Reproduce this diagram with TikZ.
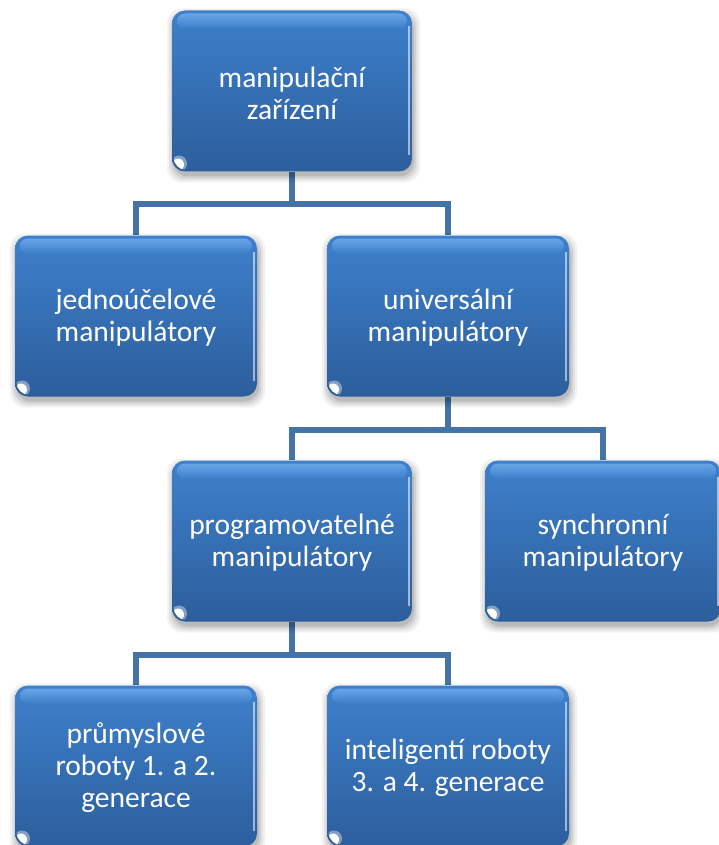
\documentclass[tikz,border=0pt]{standalone}
\usepackage{fontspec}
\setmainfont{Carlito}
\pgfdeclarelayer{bg}
\pgfsetlayers{bg,main}
\definecolor{boxtop}{RGB}{62,128,204}
\definecolor{boxbot}{RGB}{44,94,156}
\definecolor{gloss}{RGB}{112,172,236}
\definecolor{conn}{RGB}{69,114,167}
\tikzset{
  box/.style={rounded corners=13pt, top color=boxtop, bottom color=boxbot,
    draw=none, text=white, align=center, inner sep=0pt},
  boxtext/.style={text=white, align=center, inner sep=0pt,
    font=\fontsize{29.5}{32}\selectfont},
  connector/.style={draw=conn, line width=6pt}
}
\newcommand{\rbox}[6]{%
  \pgfmathsetmacro{\bl}{#2-#4/2}\pgfmathsetmacro{\br}{#2+#4/2}%
  \pgfmathsetmacro{\bt}{#3-#5/2}\pgfmathsetmacro{\bb}{#3+#5/2}%
  \foreach \s/\o in {7/0.05,5/0.06,3/0.08,1/0.1}{%
    \fill[black,opacity=\o,rounded corners=15pt] (\bl-\s+2,\bt+5-\s) rectangle (\br+\s+1,\bb+4+\s);}
  \node[box, minimum width=#4pt, minimum height=#5pt] (#1) at (#2,#3) {};
  \shade[top color=gloss, bottom color=boxtop, rounded corners=8pt, opacity=0.85]
    (\bl+5,\bt+3) rectangle (\br-5,\bt+18);
  \draw[white, opacity=0.55, line width=1.5pt] (\br-3,\bt+16) -- (\br-3,\bb-16);
  \begin{scope}
    \clip[rounded corners=13pt] (\bl+1.5,\bt) rectangle (\br,\bb-1.5);
    \fill[white, opacity=0.4] (\bl+7,\bb-8) circle (8pt);
    \fill[white] (\bl+6,\bb-7) circle (6pt);
  \end{scope}
  \node[boxtext] (#1t) at (#2,#3+2) {#6};
}
\begin{document}
\begin{tikzpicture}[x=1pt,y=-1pt]
\useasboundingbox (0,0) rectangle (719,845);
\begin{pgfonlayer}{bg}
\fill[white] (0,0) rectangle (719,845);
\end{pgfonlayer}
\rbox{A}{292}{91}{240}{161}{manipulační\\zařízení}
\rbox{B}{136}{316}{242}{161}{jednoúčelové\\manipulátory}
\rbox{C}{448}{316}{242}{161}{universální\\manipulátory}
\rbox{D}{292}{541}{240}{161}{programovatelné\\manipulátory}
\rbox{E}{603}{541}{236}{161}{synchronní\\manipulátory}
\rbox{F}{136}{766}{242}{161}{průmyslové\\roboty 1. a 2.\\generace}
\rbox{G}{448}{766}{242}{161}{inteligentí roboty\\3. a 4. generace}
\coordinate (j1) at (292,204);
\coordinate (j2) at (448,430);
\coordinate (j3) at (292,655);
\begin{pgfonlayer}{bg}
\draw[connector] (A.south) -- (j1);
\draw[connector] (B.north) |- (j1) -| (C.north);
\draw[connector] (C.south) -- (j2);
\draw[connector] (D.north) |- (j2) -| (E.north);
\draw[connector] (D.south) -- (j3);
\draw[connector] (F.north) |- (j3) -| (G.north);
\end{pgfonlayer}
\end{tikzpicture}
\end{document}
